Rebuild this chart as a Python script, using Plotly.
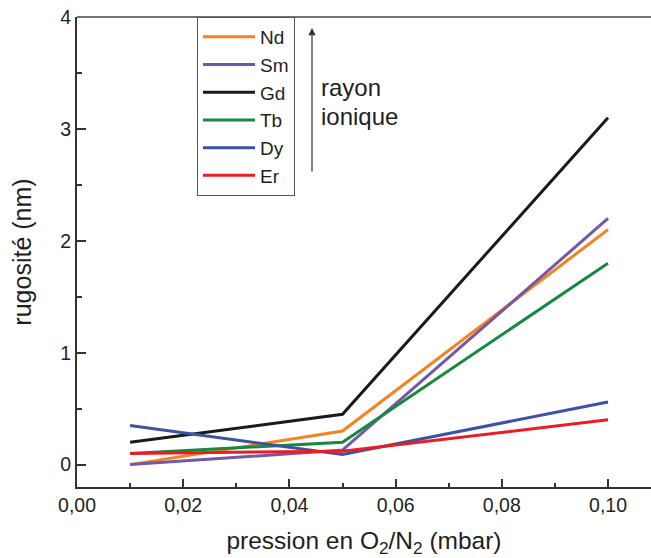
import plotly.graph_objects as go

pression = [0.01, 0.05, 0.10]
Nd = [0.0, 0.30, 2.10]
Sm = [0.0, 0.13, 2.20]
Gd = [0.20, 0.45, 3.10]
Tb = [0.10, 0.20, 1.80]
Dy = [0.35, 0.09, 0.56]
Er = [0.10, 0.12, 0.40]

series = [
    ("Nd", Nd, "#F5821F"),
    ("Sm", Sm, "#7556A7"),
    ("Gd", Gd, "#1A1A1A"),
    ("Tb", Tb, "#17893F"),
    ("Dy", Dy, "#3954A3"),
    ("Er", Er, "#EC1C24"),
]

FONT = "Liberation Sans, Arial, sans-serif"
TXT = "#231F20"

fig = go.Figure()
for name, vals, col in series:
    fig.add_trace(go.Scatter(x=pression, y=vals, name=name, mode="lines",
                             line=dict(color=col, width=3)))

W, H = 651, 558
L, T, R = 77, 17, 0
B = H - 487
pw = W - L - R
ph = H - T - B

def px(xp):  # page x -> paper
    return (xp - L) / pw

def py(yp):  # page y -> paper
    return 1 - (yp - T) / ph

xmax = 0.01 * pw / 53.1

fig.update_layout(
    width=W, height=H,
    margin=dict(l=L, r=R, t=T, b=B, autoexpand=False),
    paper_bgcolor="white", plot_bgcolor="white",
    separators=",.",
    font=dict(family=FONT, size=19, color=TXT),
    showlegend=True,
    legend=dict(x=px(197), y=1, xanchor="left", yanchor="top",
                bordercolor="#555555", borderwidth=1, bgcolor="white",
                font=dict(size=19, family=FONT, color=TXT),
                tracegroupgap=0, itemwidth=52),
    xaxis=dict(range=[0, xmax], tickvals=[0, 0.02, 0.04, 0.06, 0.08, 0.10],
               tickformat=".2f", ticks="inside", ticklen=8, tickwidth=1.5,
               tickcolor="#333333", showline=True, linewidth=2, linecolor="#333333",
               showgrid=False, zeroline=False, automargin=False,
               minor=dict(tickvals=[0.01, 0.03, 0.05, 0.07, 0.09], ticks="inside",
                          ticklen=4, tickwidth=1.5, tickcolor="#333333"),
               tickfont=dict(size=19.5, family=FONT, color=TXT),
               title=dict(text="pression en O<sub>2</sub>/N<sub>2</sub> (mbar)",
                          font=dict(size=24.5, family=FONT, color=TXT), standoff=17)),
    yaxis=dict(range=[-0.2, 4], tickvals=[0, 1, 2, 3, 4], ticks="inside",
               ticklen=9, tickwidth=1.5, tickcolor="#333333",
               showline=True, linewidth=2, linecolor="#333333",
               showgrid=False, zeroline=False, automargin=False,
               minor=dict(tickvals=[0.5, 1.5, 2.5, 3.5], ticks="inside",
                          ticklen=5, tickwidth=1.5, tickcolor="#333333"),
               tickfont=dict(size=19.5, family=FONT, color=TXT),
               title=dict(text="rugosité (nm)", font=dict(size=25, family=FONT, color=TXT),
                          standoff=21)),
)

# top frame line
fig.add_shape(type="line", xref="paper", yref="paper", x0=0, x1=1, y0=1, y1=1,
              line=dict(color="#444444", width=1.5))

# arrow
fig.add_annotation(xref="paper", yref="paper", x=px(312), y=py(28), text="",
                   showarrow=True, ax=0, ay=145, axref="pixel", ayref="pixel",
                   arrowhead=2, arrowsize=1.2, arrowwidth=1.2, arrowcolor="#333333")

for txt, yc in (("rayon", 87), ("ionique", 116)):
    fig.add_annotation(xref="paper", yref="paper", x=px(319), y=py(yc),
                       xanchor="left", yanchor="middle", align="left", showarrow=False,
                       text=txt, font=dict(size=24, family=FONT, color=TXT))

fig.write_html("out.html", config={"displayModeBar": False},
               post_script="document.body.style.margin='0';document.body.style.overflow='hidden';")
